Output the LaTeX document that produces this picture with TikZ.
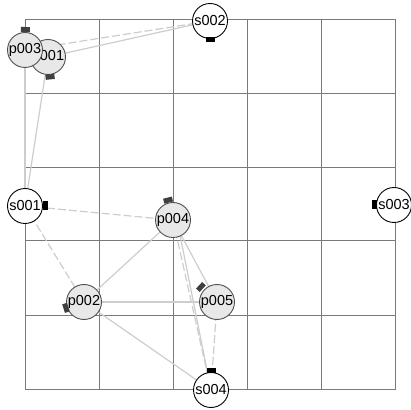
\documentclass[tikz,border=0pt]{standalone}
\usepackage{fontspec}
\setmainfont{Liberation Sans}
\usetikzlibrary{calc}
\pgfdeclarelayer{gridlayer}
\pgfdeclarelayer{edgelayer}
\pgfsetlayers{gridlayer,edgelayer,main}
\definecolor{gridgrey}{HTML}{7A7A7A}
\definecolor{linkgrey}{HTML}{CDCDCD}
\definecolor{procfill}{HTML}{E8E8E8}
\definecolor{procline}{HTML}{505050}
\definecolor{portdark}{HTML}{404040}
\tikzset{
  proc/.style={circle, draw=procline, line width=0.9pt, fill=procfill,
    minimum size=35pt, inner sep=0pt, font=\fontsize{14.5}{16}\selectfont},
  store/.style={circle, draw=black, line width=0.9pt, fill=white,
    minimum size=35pt, inner sep=0pt, font=\fontsize{14.5}{16}\selectfont},
  portbox/.style={rectangle, fill=#1, draw=none, minimum width=9pt,
    minimum height=5pt, inner sep=0pt},
  portbox/.default=black,
  link/.style={draw=linkgrey, line width=1.2pt},
  dlink/.style={draw=linkgrey, line width=1.2pt, dash pattern=on 8pt off 3pt},
  gridline/.style={draw=gridgrey, line width=1pt},
}
% place a port on the rim of a node: #1 node, #2 angle, #3 distance, #4 colour, #5 name
\newcommand{\rimport}[5]{%
  \node[portbox=#4, rotate=#2-90] (#5) at ($(#1.center)+(#2:#3)$) {};}
\begin{document}
\begin{tikzpicture}[x=1pt,y=1pt]
\useasboundingbox (0,0) rectangle (411,409);

% 5 x 5 grid
\begin{pgfonlayer}{gridlayer}
  \foreach \gx in {99,173,247,321}
    \draw[gridline] (\gx,20) -- (\gx,389);
  \foreach \gy in {94,168,241,315}
    \draw[gridline] (25,\gy) -- (395,\gy);
  \draw[gridline] (25,20) rectangle (395,389);
\end{pgfonlayer}

% stores and processes
\node[store] (s002) at (210,388) {s002};
\node[store] (s001) at (25,203) {s001};
\node[store] (s003) at (394,204) {s003};
\node[store] (s004) at (211,19) {s004};
\node[proc] (p001) at (48,352) {p001};
\node[proc] (p003) at (25,359) {p003};
\node[proc] (p004) at (173,189) {p004};
\node[proc] (p002) at (84,107) {p002};
\node[proc] (p005) at (217,107) {p005};

% ports
\rimport{p003}{89}{20.5}{portdark}{pt3}
\rimport{p001}{-84}{20}{portdark}{pt1}
\rimport{s002}{-90}{19}{black}{st2}
\rimport{s001}{0}{20}{black}{st1}
\rimport{p004}{104}{20.5}{portdark}{pt4}
\rimport{p002}{198}{19}{portdark}{pt2}
\rimport{p005}{137}{22}{portdark}{pt5}
\rimport{s004}{90}{19.5}{black}{st4}
\rimport{s003}{180}{19.5}{black}{st3}

% connectors
\begin{pgfonlayer}{edgelayer}
  \draw[dlink] (p003.center) -- (s002.center);
  \draw[link]  (p001.center) -- (s002.center);
  \draw[link]  (p003.center) -- (s001.center);
  \draw[link]  (p001.center) -- (s001.center);
  \draw[dlink] (s001.center) -- (p004.center);
  \draw[dlink] (s001.center) -- (p002.center);
  \draw[link]  (p002.center) -- (p004.center);
  \draw[link]  (p002.center) -- (p005.center);
  \draw[link]  (p002.center) -- (s004.center);
  \draw[link]  (p004.center) -- (p005.center);
  \draw[dlink] (p004.center) -- (s004.center);
  \draw[link]  ($(p004.center)+(4,0)$) -- (s004.center);
  \draw[dlink] (p005.center) -- (s004.center);
\end{pgfonlayer}
\end{tikzpicture}
\end{document}
